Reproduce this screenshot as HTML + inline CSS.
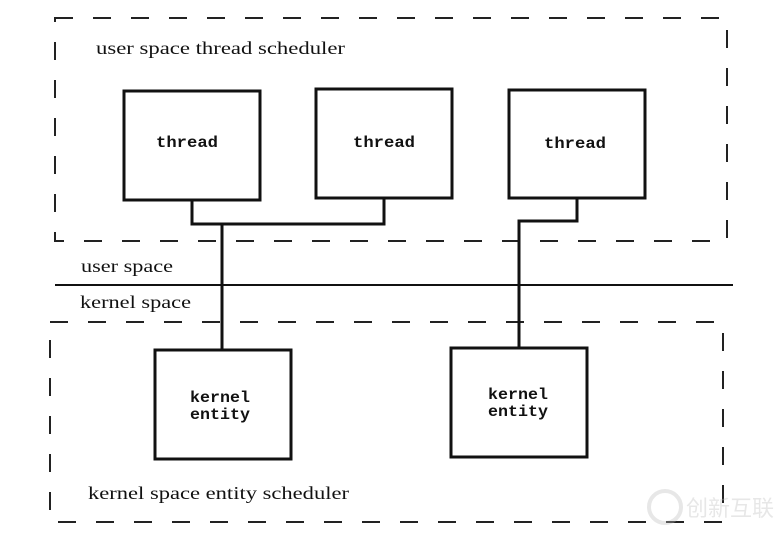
<!DOCTYPE html>
<html><head><style>body{margin:0;background:#fff}</style></head><body>
<svg width="779" height="538" xmlns="http://www.w3.org/2000/svg">
<g fill="none" stroke="#222" stroke-width="2" stroke-dasharray="18,20">
<rect x="55" y="18" width="672" height="223"/>
<rect x="50" y="322" width="673" height="200"/>
</g>
<g fill="none" stroke="#111" stroke-width="3">
<rect x="124" y="91" width="136" height="109"/>
<rect x="316" y="89" width="136" height="109"/>
<rect x="509" y="90" width="136" height="108"/>
<rect x="155" y="350" width="136" height="109"/>
<rect x="451" y="348" width="136" height="109"/>
<polyline points="192,200 192,224 384,224 384,198"/>
<line x1="222" y1="224" x2="222" y2="350"/>
<polyline points="577,198 577,221 519,221 519,348"/>
</g>
<line x1="55" y1="285" x2="733" y2="285" stroke="#111" stroke-width="2"/>
<g font-family="Liberation Serif, serif" font-size="18" fill="#111" lengthAdjust="spacingAndGlyphs">
<text x="96" y="54" textLength="249" lengthAdjust="spacingAndGlyphs">user space thread scheduler</text>
<text x="81" y="272" textLength="92" lengthAdjust="spacingAndGlyphs">user space</text>
<text x="80" y="308" textLength="111" lengthAdjust="spacingAndGlyphs">kernel space</text>
<text x="88" y="499" textLength="261" lengthAdjust="spacingAndGlyphs">kernel space entity scheduler</text>
</g>
<g font-family="Liberation Mono, monospace" font-size="16" font-weight="bold" fill="#111" text-anchor="middle">
<text x="187" y="147" textLength="62" lengthAdjust="spacingAndGlyphs">thread</text>
<text x="384" y="147" textLength="62" lengthAdjust="spacingAndGlyphs">thread</text>
<text x="575" y="148" textLength="62" lengthAdjust="spacingAndGlyphs">thread</text>
<text x="220" y="402" textLength="60" lengthAdjust="spacingAndGlyphs">kernel</text>
<text x="220" y="419" textLength="60" lengthAdjust="spacingAndGlyphs">entity</text>
<text x="518" y="399" textLength="60" lengthAdjust="spacingAndGlyphs">kernel</text>
<text x="518" y="416" textLength="60" lengthAdjust="spacingAndGlyphs">entity</text>
</g>
<g opacity="0.35">
<circle cx="665" cy="507" r="16" fill="none" stroke="#bbb" stroke-width="4"/>
<text x="686" y="516" font-family="Noto Sans CJK SC, sans-serif" font-size="22" fill="#bbb">创新互联</text>
</g>
</svg>
</body></html>
